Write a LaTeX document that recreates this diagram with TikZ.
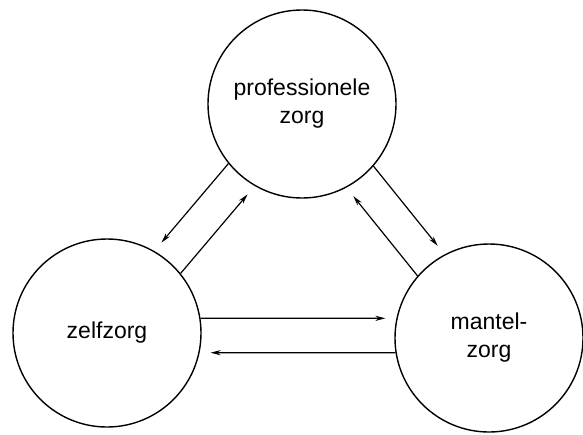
\documentclass[tikz,border=0pt]{standalone}
\usepackage{fontspec}
\setmainfont{Liberation Sans}
\usetikzlibrary{arrows.meta}

\begin{document}
\begin{tikzpicture}[
  x=0.5pt, y=-0.5pt,
  zorg/.style={circle, draw, line width=0.7pt, minimum size=94pt, inner sep=0pt, align=center, font=\fontsize{11.5}{14}\selectfont},
  arrow/.style={->, line width=0.6pt, >={Stealth[length=5pt,width=2.6pt]}, shorten >=5.5pt}
]
\useasboundingbox (0,0) rectangle (583,434);

% ── The three kinds of care ──────────────────────────────────
\node[zorg] (prof)   at (302,104) {professionele\\zorg};
\node[zorg] (zelf)   at (107,333) {zelfzorg};
\node[zorg] (mantel) at (489,338) {mantel-\\zorg};

% ── Arrows ───────────────────────────────────────────────────
\draw[arrow] (prof.219.2)   -- (zelf.60.0);
\draw[arrow] (zelf.39.2)    -- (prof.240.0);
\draw[arrow] (prof.319.0)   -- (mantel.118.2);
\draw[arrow] (mantel.139.0) -- (prof.298.2);
\draw[arrow] (zelf.9.6)     -- (mantel.168.9);
\draw[arrow] (mantel.189.6) -- (zelf.348.9);
\end{tikzpicture}
\end{document}
